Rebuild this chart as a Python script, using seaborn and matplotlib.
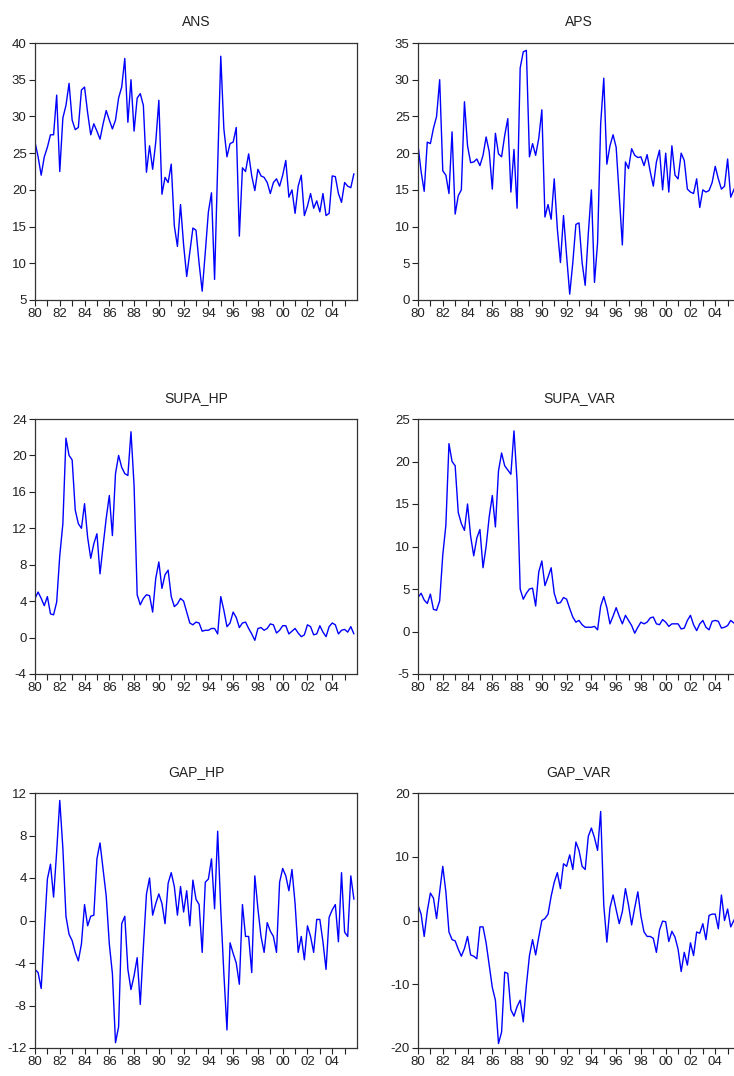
import matplotlib
matplotlib.use("Agg")
import matplotlib.pyplot as plt
import numpy as np
import pandas as pd
import seaborn as sns

# ---------------- data (quarterly, 1980Q1 - 2005Q4) ----------------
quarters = pd.period_range("1980Q1", periods=104, freq="Q")

ans = [26.5, 24.5, 22.0, 24.5, 25.8, 27.5, 27.5, 32.9, 22.5, 29.8,
       31.5, 34.5, 29.5, 28.2, 28.5, 33.6, 34.0, 30.5, 27.5, 29.0,
       28.0, 26.9, 29.0, 30.8, 29.5, 28.3, 29.5, 32.5, 34.0, 37.9,
       29.2, 35.0, 28.0, 32.5, 33.1, 31.5, 22.4, 26.0, 22.8, 26.5,
       32.2, 19.4, 21.7, 21.0, 23.5, 15.1, 12.3, 18.0, 12.5, 8.2,
       11.5, 14.8, 14.5, 10.0, 6.2, 11.5, 17.0, 19.6, 7.8, 23.3,
       38.2, 28.3, 24.5, 26.3, 26.5, 28.5, 13.7, 23.0, 22.5, 24.9,
       21.9, 19.9, 22.8, 21.9, 21.7, 21.0, 19.5, 21.0, 21.5, 20.5,
       22.0, 24.0, 19.0, 20.0, 16.8, 20.5, 22.0, 16.5, 17.8, 19.5,
       17.5, 18.5, 17.0, 19.5, 16.5, 16.8, 21.9, 21.8, 19.5, 18.3,
       21.0, 20.5, 20.3, 22.2]

aps = [21.1, 17.5, 14.8, 21.5, 21.3, 23.4, 25.0, 30.0, 17.6, 17.0,
       14.5, 22.9, 11.7, 14.2, 15.0, 27.0, 21.0, 18.7, 18.8, 19.2,
       18.3, 19.7, 22.2, 20.2, 15.1, 22.7, 19.9, 19.5, 22.4, 24.7,
       14.7, 20.5, 12.5, 31.6, 33.8, 34.0, 19.5, 21.3, 19.7, 22.0,
       25.9, 11.3, 13.0, 11.0, 16.5, 9.7, 5.1, 11.5, 6.0, 0.8,
       5.1, 10.3, 10.5, 5.1, 2.0, 9.0, 15.0, 2.4, 7.8, 24.0,
       30.2, 18.5, 21.0, 22.5, 20.8, 14.2, 7.5, 18.8, 17.9, 20.6,
       19.7, 19.4, 19.5, 18.3, 19.8, 17.5, 15.5, 18.8, 20.4, 15.0,
       20.0, 14.7, 21.0, 17.0, 16.5, 20.0, 19.0, 15.1, 14.7, 14.5,
       16.5, 12.6, 15.0, 14.7, 14.9, 16.0, 18.2, 16.5, 15.1, 15.5,
       19.2, 14.0, 15.0, 16.0]

supa_hp = [4.3, 5.0, 4.3, 3.5, 4.5, 2.6, 2.5, 3.9, 9.0, 12.5,
           21.9, 20.0, 19.5, 14.0, 12.5, 12.0, 14.7, 11.0, 8.7, 10.3,
           11.4, 7.0, 10.1, 13.1, 15.6, 11.2, 18.0, 20.0, 18.7, 18.0,
           17.8, 22.6, 16.7, 4.7, 3.6, 4.3, 4.7, 4.6, 2.8, 6.5,
           8.3, 5.4, 6.9, 7.4, 4.5, 3.4, 3.7, 4.3, 4.0, 2.8,
           1.6, 1.4, 1.7, 1.6, 0.7, 0.8, 0.8, 1.0, 1.0, 0.4,
           4.5, 3.0, 1.2, 1.6, 2.8, 2.2, 1.1, 1.6, 1.7, 1.0,
           0.4, -0.3, 1.0, 1.1, 0.8, 1.0, 1.5, 1.4, 0.5, 0.8,
           1.3, 1.3, 0.4, 0.7, 1.0, 0.5, 0.1, 0.3, 1.4, 1.2,
           0.3, 0.4, 1.3, 0.6, 0.1, 1.2, 1.6, 1.4, 0.4, 0.8,
           0.9, 0.6, 1.2, 0.4]

supa_var = [4.0, 4.5, 3.7, 3.3, 4.4, 2.6, 2.5, 3.6, 9.0, 12.5,
            22.1, 20.0, 19.5, 14.0, 12.7, 11.9, 15.0, 11.2, 8.9, 11.0,
            12.0, 7.5, 10.0, 13.5, 16.0, 12.3, 18.9, 21.0, 19.5, 19.0,
            18.5, 23.6, 17.7, 5.0, 3.8, 4.5, 5.0, 5.1, 3.0, 7.0,
            8.3, 5.4, 6.4, 7.5, 4.5, 3.3, 3.4, 4.0, 3.8, 2.7,
            1.7, 1.1, 1.3, 0.8, 0.5, 0.5, 0.5, 0.6, 0.2, 3.0,
            4.1, 2.8, 0.9, 1.8, 2.8, 1.8, 0.9, 1.9, 1.3, 0.7,
            -0.2, 0.5, 1.1, 0.9, 1.1, 1.6, 1.7, 0.9, 0.8, 1.4,
            1.1, 0.6, 0.9, 0.9, 0.9, 0.3, 0.4, 1.3, 1.9, 0.8,
            0.1, 0.9, 1.3, 0.5, 0.2, 1.2, 1.3, 1.2, 0.4, 0.5,
            0.7, 1.3, 1.0, 1.2]

gap_hp = [-4.6, -4.9, -6.4, -1.1, 3.9, 5.3, 2.2, 6.5, 11.3, 6.8,
          0.4, -1.3, -1.9, -3.0, -3.8, -2.2, 1.5, -0.5, 0.4, 0.5,
          5.8, 7.3, 4.8, 2.3, -2.2, -5.0, -11.5, -10.0, -0.3, 0.4,
          -4.6, -6.5, -5.2, -3.5, -7.9, -2.5, 2.5, 4.0, 0.5, 1.6,
          2.5, 1.6, -0.3, 3.5, 4.5, 3.2, 0.5, 3.2, 0.8, 2.8,
          -0.5, 3.8, 2.0, 1.5, -3.0, 3.6, 3.9, 5.8, 1.1, 8.4,
          1.0, -5.0, -10.3, -2.1, -3.1, -4.0, -6.0, 1.5, -1.5, -1.5,
          -4.9, 4.2, 1.1, -1.5, -3.0, -0.2, -1.0, -1.5, -3.0, 3.6,
          4.9, 4.2, 2.8, 4.8, 1.6, -3.0, -1.5, -3.7, -0.5, -1.5,
          -3.0, 0.1, 0.1, -2.0, -4.6, 0.3, 1.0, 1.5, -2.0, 4.5,
          -1.1, -1.5, 4.2, 2.0]

gap_var = [2.4, 1.0, -2.5, 1.5, 4.3, 3.5, 0.3, 4.5, 8.5, 4.5,
           -1.8, -3.0, -3.2, -4.5, -5.6, -4.4, -2.5, -5.4, -5.6, -6.0,
           -1.0, -1.0, -3.5, -7.0, -10.5, -12.5, -19.3, -17.5, -8.1, -8.3,
           -14.0, -15.0, -13.5, -12.5, -15.9, -10.2, -5.5, -3.0, -5.4, -2.6,
           0.0, 0.3, 1.0, 3.8, 6.0, 7.5, 5.0, 8.9, 8.5, 10.3,
           8.0, 12.3, 11.0, 8.5, 8.0, 13.2, 14.5, 13.0, 11.0, 17.1,
           2.4, -3.4, 2.0, 4.0, 1.7, -0.5, 1.4, 5.0, 2.4, -0.7,
           2.0, 4.5, 0.7, -1.8, -2.5, -2.5, -2.8, -5.0, -1.5, -0.1,
           -0.2, -3.3, -1.7, -2.6, -4.5, -8.0, -5.0, -7.0, -3.5, -5.5,
           -1.8, -2.0, -0.5, -3.0, 0.8, 1.0, 1.0, -1.3, 4.0, 0.0,
           1.8, -1.0, 0.0, 1.0]

titles = ["ANS", "APS", "SUPA_HP", "SUPA_VAR", "GAP_HP", "GAP_VAR"]
series = [ans, aps, supa_hp, supa_var, gap_hp, gap_var]
y_ticks = [
    [5, 10, 15, 20, 25, 30, 35, 40],
    [0, 5, 10, 15, 20, 25, 30, 35],
    [-4, 0, 4, 8, 12, 16, 20, 24],
    [-5, 0, 5, 10, 15, 20, 25],
    [-12, -8, -4, 0, 4, 8, 12],
    [-20, -10, 0, 10, 20],
]
years = list(range(1980, 2006))
year_labels = [f"{y % 100:02d}" if y % 2 == 0 else "" for y in years]

# ---------------- style ----------------
sns.set_style("ticks")
plt.rcParams["font.family"] = ["Liberation Sans", "DejaVu Sans"]

W, H = 734, 1076
fig = plt.figure(figsize=(W / 100, H / 100), dpi=100)

# pixel layout (left, top, bottom) for each panel
lefts = [35, 418]
rows = [(43, 300), (419, 674), (793, 1048)]
axw = 322

t = quarters.year + (quarters.quarter - 1) / 4.0

for i, (name, vals, yt) in enumerate(zip(titles, series, y_ticks)):
    r, c = divmod(i, 2)
    top, bot = rows[r]
    l = lefts[c]
    ax = fig.add_axes([l / W, 1 - bot / H, axw / W, (bot - top) / H])
    df = pd.DataFrame({"t": np.asarray(t, dtype=float), "v": vals})
    sns.lineplot(data=df, x="t", y="v", ax=ax, color="#0000FF",
                 linewidth=1.0, estimator=None)
    ax.set_xlim(1980, 2006)
    ax.set_ylim(yt[0], yt[-1])
    ax.set_yticks(yt)
    ax.set_yticklabels([str(v) for v in yt])
    ax.set_xticks(years)
    ax.set_xticklabels(year_labels)
    ax.set_xlabel("")
    ax.set_ylabel("")
    ax.set_title(name, fontsize=10, pad=12, color="#222222")
    ax.tick_params(direction="out", length=4.5, width=0.8, pad=1.5,
                   labelsize=9.5, colors="#222222")
    for s in ax.spines.values():
        s.set_visible(True)
        s.set_linewidth(0.9)
        s.set_color("#333333")

fig.savefig("out.png", dpi=100)
